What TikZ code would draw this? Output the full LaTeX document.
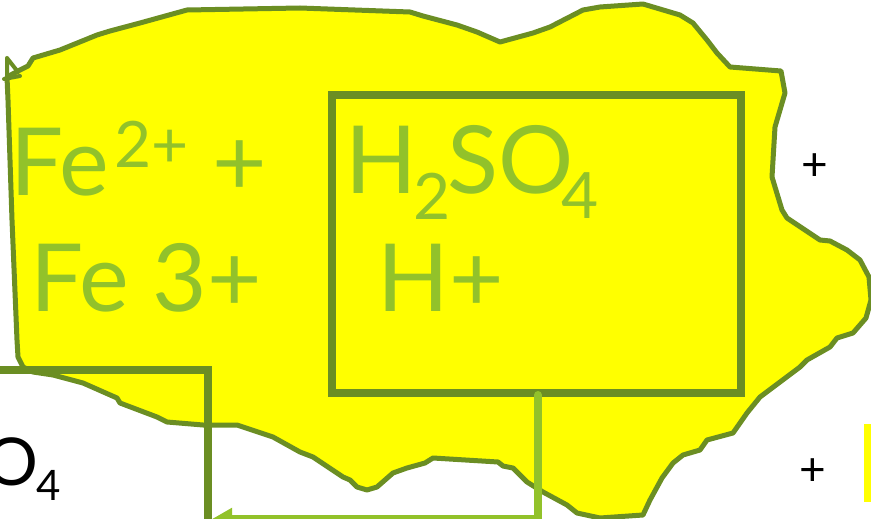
\documentclass[tikz,border=0pt]{standalone}
\usepackage{fontspec}
\setmainfont{Lato}
\usetikzlibrary{arrows.meta}
\definecolor{blobyellow}{RGB}{255,255,0}
\definecolor{olivestroke}{RGB}{107,142,35}
\definecolor{limetext}{RGB}{146,194,42}
\newcommand{\subsz}[1]{{\fontsize{64}{64}\selectfont #1}}
\tikzset{
  blob/.style={draw=olivestroke, line width=5pt, fill=blobyellow, line join=round, line cap=round},
  darkline/.style={draw=olivestroke, line width=7.5pt, line join=miter},
  lightline/.style={draw=limetext, line width=8pt, line cap=round, line join=miter},
  bigtxt/.style={text=limetext, font=\fontsize{94}{94}\selectfont, inner sep=0pt, anchor=base west},
  smalltxt/.style={text=limetext, font=\fontsize{64}{64}\selectfont, inner sep=0pt, anchor=base west},
  plustxt/.style={text=black, font=\fontsize{46}{46}\selectfont, inner sep=0pt, anchor=center},
  blktxt/.style={text=black, font=\fontsize{66}{66}\selectfont, inner sep=0pt},
  blksub/.style={text=black, font=\fontsize{42}{42}\selectfont, inner sep=0pt, anchor=base west}
}
\begin{document}
\begin{tikzpicture}[x=1pt,y=-1pt]
\useasboundingbox (0,0) rectangle (871,519);
\clip (0,0) rectangle (871,519);
% blob
\path[blob] (7,77) -- (8,100) -- (12,220) -- (17,340) -- (18,357) -- (23,367) -- (33,372) -- (53,375) -- (83,383) -- (117,398) -- (120,403) -- (157,417) -- (167,422) -- (203,425) -- (237,425) -- (273,437) -- (300,452) -- (313,457) -- (343,477) -- (350,480) -- (357,487) -- (367,490) -- (377,487) -- (393,473) -- (407,468) -- (425,463) -- (433,458) -- (498,462) -- (503,466) -- (513,468) -- (527,482) -- (543,492) -- (567,505) -- (577,513) -- (600,518) -- (643,515) -- (650,500) -- (662,478) -- (673,463) -- (683,455) -- (700,450) -- (707,440) -- (733,433) -- (747,413) -- (760,397) -- (800,367) -- (807,360) -- (830,347) -- (837,338) -- (853,333) -- (866,318) -- (871,300) -- (869,277) -- (860,260) -- (847,250) -- (830,241) -- (820,240) -- (787,218) -- (782,210) -- (772,177) -- (775,127) -- (785,93) -- (781,71) -- (730,67) -- (717,53) -- (707,40) -- (693,23) -- (680,15) -- (643,4) -- (600,7) -- (583,10) -- (550,27) -- (533,33) -- (500,42) -- (477,32) -- (457,25) -- (423,16) -- (410,12) -- (300,8) -- (187,10) -- (140,23) -- (110,31) -- (97,35) -- (60,50) -- (33,58) -- (28,66) -- (20,70) -- cycle;
\draw[draw=olivestroke, line width=4pt, line cap=round] (7,58) -- (18,72) (7,58) -- (7,80) (4,79) -- (20,76);
% rectangle
\coordinate (r1) at (332,95);
\coordinate (r2) at (741,393);
\draw[darkline] (r1) rectangle (r2);
% dark L line
\coordinate (la) at (-5,370);
\coordinate (lb) at (208,370);
\coordinate (lc) at (208,525);
\draw[darkline] (la) -- (lb) -- (lc);
% light green arrow
\coordinate (ga) at (538,395);
\coordinate (gb) at (538,519);
\coordinate (gc) at (212,519);
\draw[lightline, -{Triangle[length=20pt, width=21pt]}] (ga) -- (gb) -- (gc);
% yellow bar
\fill[blobyellow] (864,424) rectangle (871,502);
% texts
\node[bigtxt] (fe2) at (10,195) {Fe};
\node[smalltxt] (sup2) at (114,167) {2+};
\node[bigtxt] (plus1) at (212,195) {+};
\node[bigtxt] (fe3) at (30,311) {Fe 3+};
\node[bigtxt] (hso) at (345,193) {H\kern-3pt\raisebox{-27pt}{\subsz{2}}\kern-4pt SO\kern-12pt\raisebox{-25pt}{\subsz{4}}};
\node[bigtxt] (hplus) at (377,311) {H+};
\node[plustxt] (bp1) at (815,167) {+};
\node[plustxt] (bp2) at (813,472) {+};
\node[blktxt, anchor=base east] (oo) at (39,485) {O};
\node[blksub] (o4) at (36,500) {4};
\end{tikzpicture}
\end{document}
